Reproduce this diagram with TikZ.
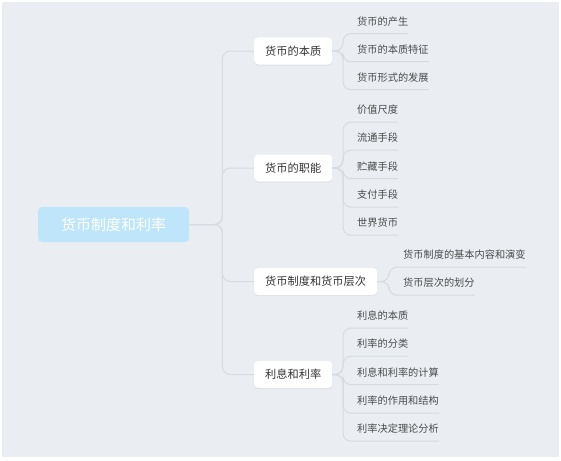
\documentclass[tikz,border=0pt]{standalone}
\usepackage{fontspec}
\setmainfont{Noto Sans CJK SC}
\usepackage{tikz}
\usetikzlibrary{shadows}
\definecolor{bgcol}{HTML}{EAEEF3}
\definecolor{linecol}{HTML}{D6DBE1}
\definecolor{rootcol}{HTML}{BEE5FA}
\definecolor{leaftext}{HTML}{4A4A4A}
\definecolor{branchtext}{HTML}{333333}
\tikzset{
  rootbox/.style={anchor=west, fill=rootcol, rounded corners=4pt, text=white,
    font=\fontsize{15}{15}\selectfont, minimum width=151pt, minimum height=35pt},
  branchbox/.style={anchor=west, fill=white, rounded corners=4pt, text=branchtext,
    font=\fontsize{11.2}{11.2}\selectfont, inner xsep=11pt, minimum height=27pt,
    drop shadow={shadow xshift=0pt, shadow yshift=-1.2pt, opacity=0.12}},
  leaf/.style={anchor=west, text=leaftext, font=\fontsize{10.2}{10.2}\selectfont,
    inner xsep=0pt, inner ysep=0pt, minimum height=24pt},
  conn/.style={draw=linecol, line width=1pt, rounded corners=8pt}
}

\begin{document}
\begin{tikzpicture}[x=1pt, y=-1pt]
  \useasboundingbox (0, 0) rectangle (561, 460);
  \fill [bgcol] (2, 2) rectangle (559, 457);

  \node [rootbox] (root) at (38, 224.5) {货币制度和利率};

  \node [branchbox] (bz) at (254, 51) {货币的本质};
  \node [branchbox] (zn) at (254, 168) {货币的职能};
  \node [branchbox] (zd) at (254, 281.5) {货币制度和货币层次};
  \node [branchbox] (lx) at (254, 374.5) {利息和利率};

  \node [leaf] (bz1) at (357, 21.5) {货币的产生};
  \node [leaf] (bz2) at (357, 49.5) {货币的本质特征};
  \node [leaf] (bz3) at (357, 77.5) {货币形式的发展};

  \node [leaf] (zn1) at (357, 110) {价值尺度};
  \node [leaf] (zn2) at (357, 138) {流通手段};
  \node [leaf] (zn3) at (357, 166.5) {贮藏手段};
  \node [leaf] (zn4) at (357, 195) {支付手段};
  \node [leaf] (zn5) at (357, 223) {世界货币};

  \node [leaf] (zd1) at (403, 255) {货币制度的基本内容和演变};
  \node [leaf] (zd2) at (403, 283) {货币层次的划分};

  \node [leaf] (lx1) at (357, 316) {利息的本质};
  \node [leaf] (lx2) at (357, 344) {利率的分类};
  \node [leaf] (lx3) at (357, 372.5) {利息和利率的计算};
  \node [leaf] (lx4) at (357, 401) {利率的作用和结构};
  \node [leaf] (lx5) at (357, 429) {利率决定理论分析};

  % root to branches
  \draw [conn] (root.east) -- ++(33, 0) |- (bz.west);
  \draw [conn] (root.east) -- ++(33, 0) |- (zn.west);
  \draw [conn] (root.east) -- ++(33, 0) |- (zd.west);
  \draw [conn] (root.east) -- ++(33, 0) |- (lx.west);

  % branches to leaves
  \draw [conn] (bz.east) -- (343, 51) |- (bz1.south west) -- (bz1.south east);
  \draw [conn] (bz.east) -- (343, 51) |- (bz2.south west) -- (bz2.south east);
  \draw [conn] (bz.east) -- (343, 51) |- (bz3.south west) -- (bz3.south east);

  \draw [conn] (zn.east) -- (343, 168) |- (zn1.south west) -- (zn1.south east);
  \draw [conn] (zn.east) -- (343, 168) |- (zn2.south west) -- (zn2.south east);
  \draw [conn] (zn.east) -- (343, 168) |- (zn3.south west) -- (zn3.south east);
  \draw [conn] (zn.east) -- (343, 168) |- (zn4.south west) -- (zn4.south east);
  \draw [conn] (zn.east) -- (343, 168) |- (zn5.south west) -- (zn5.south east);

  \draw [conn] (zd.east) -- (389, 281.5) |- (zd1.south west) -- (zd1.south east);
  \draw [conn] (zd.east) -- (389, 281.5) |- (zd2.south west) -- (zd2.south east);

  \draw [conn] (lx.east) -- (343, 374.5) |- (lx1.south west) -- (lx1.south east);
  \draw [conn] (lx.east) -- (343, 374.5) |- (lx2.south west) -- (lx2.south east);
  \draw [conn] (lx.east) -- (343, 374.5) |- (lx3.south west) -- (lx3.south east);
  \draw [conn] (lx.east) -- (343, 374.5) |- (lx4.south west) -- (lx4.south east);
  \draw [conn] (lx.east) -- (343, 374.5) |- (lx5.south west) -- (lx5.south east);
\end{tikzpicture}
\end{document}
